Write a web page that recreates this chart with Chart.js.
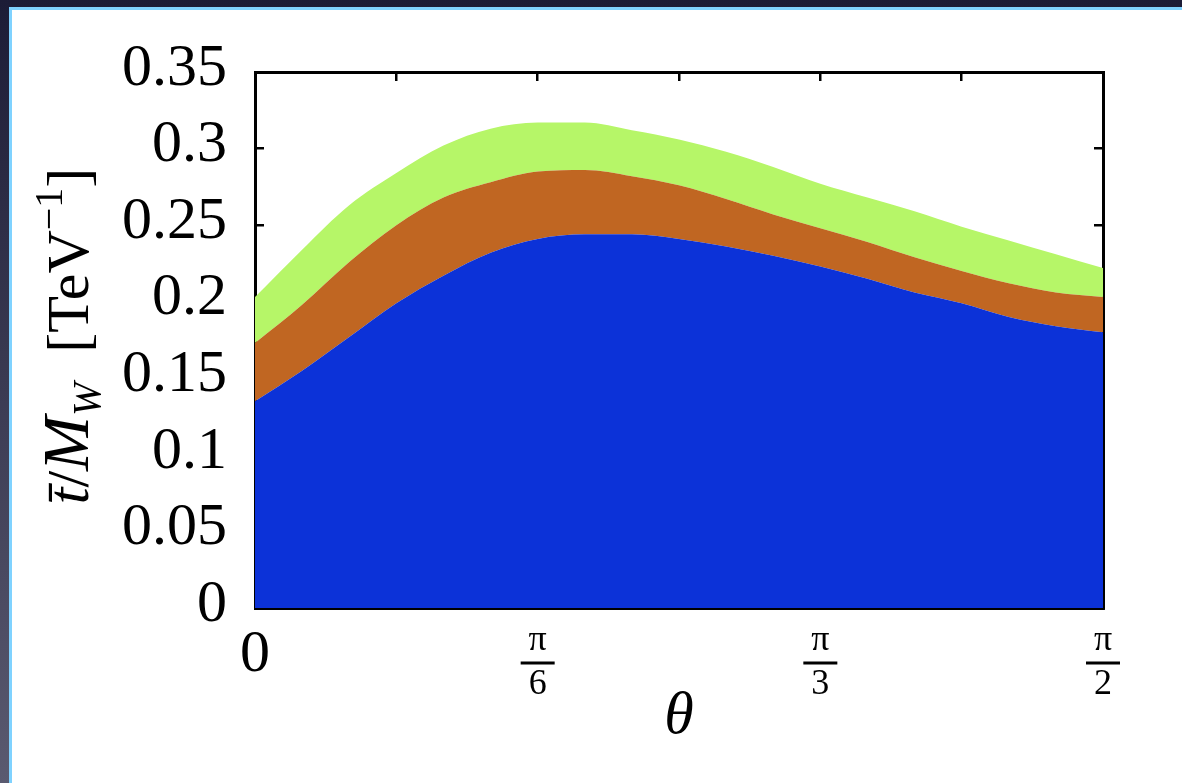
<!DOCTYPE html>
<html lang="en">
<head>
  <meta http-equiv="content-type" content="text/html; charset=utf-8" />
  <script src="https://cdn.jsdelivr.net/npm/chart.js/dist/chart.umd.min.js"></script>
  <style>
    html, body { margin: 0; padding: 0; width: 1182px; height: 783px; overflow: hidden; }
    body { background: linear-gradient(to bottom, #1c1c36, #5a5a70); position: relative; }
    #panel {
      position: absolute; left: 9px; top: 7px; right: 0; bottom: 0;
      background: #fff;
      border-left: 3px solid #7fd2ff; border-top: 3px solid #7fd2ff;
    }
    #panel canvas { display: block; }
  </style>
</head>
<body>
  <div id="panel">
    <canvas id="chart" width="1170" height="773"></canvas>
  </div>

  <script>
// theta in degrees (0 .. 90 = pi/2)
const theta = [0, 5, 10, 15, 20, 25, 30, 35, 40, 45, 50, 55, 60, 65, 70, 75, 80, 85, 90];
// upper edge of each band [TeV^-1]
const blueTop   = [0.135, 0.155, 0.177, 0.199, 0.217, 0.232, 0.241, 0.244, 0.244, 0.241, 0.236, 0.230, 0.223, 0.215, 0.206, 0.199, 0.190, 0.184, 0.180];
const orangeTop = [0.173, 0.198, 0.226, 0.250, 0.268, 0.278, 0.285, 0.286, 0.282, 0.276, 0.267, 0.257, 0.248, 0.239, 0.229, 0.220, 0.212, 0.206, 0.203];
const greenTop  = [0.203, 0.234, 0.263, 0.284, 0.302, 0.313, 0.317, 0.317, 0.312, 0.306, 0.298, 0.288, 0.277, 0.268, 0.259, 0.249, 0.240, 0.231, 0.222];

const xTicks = [0, 15, 30, 45, 60, 75, 90];
const xTickLabels = {0: '0', 30: ['π', '6'], 60: ['π', '3'], 90: ['π', '2']};
const fractionTicks = [30, 60, 90];

const SERIF = "'Liberation Serif', 'DejaVu Serif', serif";
Chart.defaults.color = '#000';
Chart.defaults.font.family = SERIF;

function pts(ys) {
    return theta.map((t, i) => ({x: t, y: ys[i]}));
}

// y-axis title with sub/superscripts
const yTitlePlugin = {
    id: 'yTitle',
    afterDraw(chart) {
        const ctx = chart.ctx;
        const parts = [
            {t: 't\u0304', f: 'italic 60px ' + SERIF, dy: 0},
            {t: '/', f: '60px ' + SERIF, dy: 0},
            {t: 'M', f: 'italic 66px ' + SERIF, dy: 0},
            {t: 'W', f: 'italic 40px ' + SERIF, dy: 12},
            {t: '  [TeV', f: '60px ' + SERIF, dy: 0},
            {t: '\u22121', f: '40px ' + SERIF, dy: -26},
            {t: ']', f: '60px ' + SERIF, dy: 0}
        ];
        ctx.save();
        let total = 0;
        parts.forEach(p => { ctx.font = p.f; p.w = ctx.measureText(p.t).width; total += p.w; });
        ctx.translate(76, 326);
        ctx.rotate(-Math.PI / 2);
        ctx.fillStyle = '#000';
        ctx.textBaseline = 'alphabetic';
        ctx.textAlign = 'left';
        let x = -total / 2;
        parts.forEach(p => {
            ctx.font = p.f;
            ctx.fillText(p.t, x, p.dy);
            x += p.w;
        });
        ctx.restore();
    }
};

// fraction bars for pi/6, pi/3, pi/2
const fractionPlugin = {
    id: 'fractionBars',
    afterDraw(chart) {
        const xs = chart.scales.x;
        const ctx = chart.ctx;
        ctx.save();
        ctx.fillStyle = '#000';
        fractionTicks.forEach(v => {
            const px = xs.getPixelForValue(v);
            ctx.fillRect(px - 17, xs.top + 53.5, 34, 3);
        });
        ctx.restore();
    }
};

const tickGrid = {
    display: true,
    drawOnChartArea: false,
    drawTicks: true,
    tickLength: -9,
    color: '#000',
    lineWidth: 2.5
};
const axisBorder = {display: true, color: '#000', width: 3};

new Chart(document.getElementById('chart'), {
    type: 'line',
    data: {
        datasets: [
            {data: pts(blueTop), backgroundColor: 'rgb(12,50,216)', fill: 'origin'},
            {data: pts(orangeTop), backgroundColor: 'rgb(192,102,34)', fill: '-1'},
            {data: pts(greenTop), backgroundColor: 'rgb(182,246,104)', fill: '-1'}
        ].map(d => Object.assign(d, {borderWidth: 0, pointRadius: 0, cubicInterpolationMode: 'monotone'}))
    },
    options: {
        responsive: false,
        animation: false,
        layout: {padding: {top: 62, right: 79, left: 0, bottom: 0}},
        plugins: {legend: {display: false}, tooltip: {enabled: false}},
        scales: {
            x: {
                type: 'linear', position: 'bottom', min: 0, max: 90, z: 1,
                border: axisBorder,
                grid: tickGrid,
                afterBuildTicks: s => { s.ticks = xTicks.map(v => ({value: v})); },
                afterFit: s => { s.height = 175; },
                ticks: {
                    autoSkip: false, maxRotation: 0, padding: 20,
                    callback: v => xTickLabels[v] !== undefined ? xTickLabels[v] : '',
                    font: c => (c.tick && c.tick.value === 0)
                        ? {family: SERIF, size: 60, lineHeight: 1.2}
                        : {family: SERIF, size: 36, lineHeight: 1.22}
                },
                title: {
                    display: true, text: 'θ',
                    font: {family: SERIF, size: 60, style: 'italic', lineHeight: 1.2},
                    padding: {top: 0, bottom: 30}
                }
            },
            x2: {
                type: 'linear', position: 'top', min: 0, max: 90, z: 1,
                border: axisBorder,
                grid: tickGrid,
                afterBuildTicks: s => { s.ticks = xTicks.map(v => ({value: v})); },
                afterFit: s => { s.height = 0; },
                ticks: {display: false}
            },
            y: {
                type: 'linear', position: 'left', min: 0, max: 0.35, z: 1,
                border: axisBorder,
                grid: tickGrid,
                afterFit: s => { s.width = 243; },
                ticks: {
                    stepSize: 0.05, padding: 37, labelOffset: -3,
                    font: {family: SERIF, size: 60, lineHeight: 0.8},
                    callback: v => String(+v.toFixed(2))
                }
            },
            y2: {
                type: 'linear', position: 'right', min: 0, max: 0.35, z: 1,
                border: axisBorder,
                grid: tickGrid,
                afterFit: s => { s.width = 0; },
                ticks: {stepSize: 0.05, display: false}
            }
        }
    },
    plugins: [yTitlePlugin, fractionPlugin]
});
  </script>
</body>
</html>
